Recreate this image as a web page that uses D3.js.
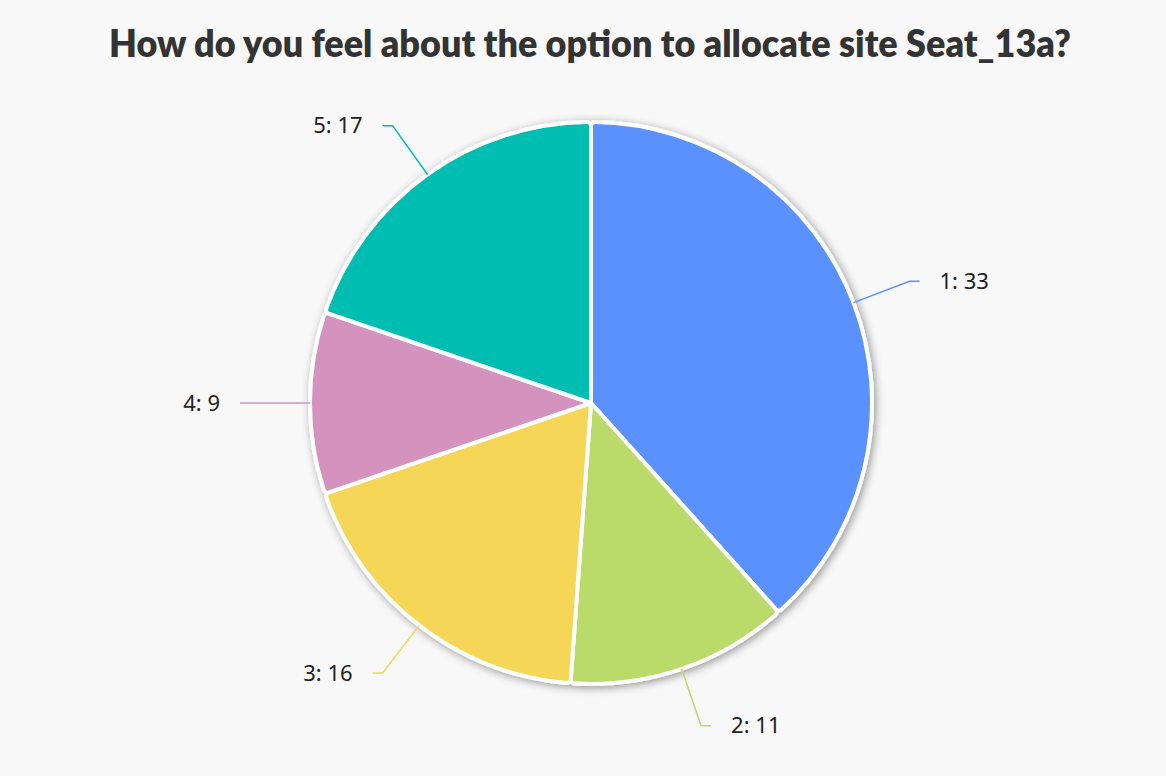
<!DOCTYPE html>
<html><head><meta charset="utf-8">
<script src="https://cdn.jsdelivr.net/npm/d3@7"></script>
<style>
html,body{margin:0;padding:0;background:#f8f8f8;}
svg{display:block;}
</style></head>
<body>
<svg id="chart" width="1166" height="776"></svg>
<script>
const title = "How do you feel about the option to allocate site Seat_13a?";
const categories = ["1", "2", "3", "4", "5"];
const values = [33, 11, 16, 9, 17];
const colors = ["#5A91FF", "#BADB6A", "#F6D657", "#D493BF", "#00BDB2"];

const W = 1166, H = 776;
const cx = 591, cy = 403, R = 281;
const svg = d3.select("#chart");

svg.append("rect").attr("width", W).attr("height", H).attr("fill", "#f8f8f8");

const defs = svg.append("defs");
const f = defs.append("filter").attr("id", "sh").attr("x", "-20%").attr("y", "-20%").attr("width", "140%").attr("height", "140%");
f.append("feDropShadow").attr("dx", 2).attr("dy", 2).attr("stdDeviation", 4).attr("flood-color", "#000").attr("flood-opacity", 0.4);

svg.append("text")
  .attr("x", 590).attr("y", 57)
  .attr("text-anchor", "middle")
  .attr("font-family", "Lato, 'Open Sans', sans-serif")
  .attr("font-weight", 800)
  .attr("font-size", 37)
  .attr("textLength", 962)
  .attr("lengthAdjust", "spacingAndGlyphs")
  .attr("fill", "#333")
  .text(title);

const data = categories.map((c, i) => ({ cat: c, value: values[i], color: colors[i] }));
const pie = d3.pie().value(d => d.value).sort(null);
const arcs = pie(data);
const arc = d3.arc().innerRadius(0).outerRadius(R).cornerRadius(4);

const g = svg.append("g").attr("transform", `translate(${cx},${cy})`);
g.append("g").attr("filter", "url(#sh)")
  .selectAll("path").data(arcs).join("path")
  .attr("d", arc)
  .attr("fill", d => d.data.color)
  .attr("stroke", "#fff")
  .attr("stroke-width", 4)
  .attr("stroke-linejoin", "round");

const len1 = 60, len2 = 10, gap = 20;
arcs.forEach(a => {
  const m = (a.startAngle + a.endAngle) / 2;
  const sx = Math.sin(m), sy = -Math.cos(m);
  const p0 = [sx * R, sy * R];
  const p1 = [sx * (R + len1), sy * (R + len1)];
  const dir = sx >= 0 ? 1 : -1;
  const p2 = [p1[0] + dir * len2, p1[1]];
  g.append("polyline")
    .attr("points", [p0, p1, p2].map(p => p.join(",")).join(" "))
    .attr("fill", "none")
    .attr("stroke", a.data.color)
    .attr("stroke-width", 1.5);
  g.append("text")
    .attr("x", p2[0] + dir * gap)
    .attr("y", p2[1])
    .attr("dy", "0.35em")
    .attr("text-anchor", dir > 0 ? "start" : "end")
    .attr("font-family", "'Source Sans Pro', 'Noto Sans', sans-serif")
    .attr("font-size", 22)
    .attr("fill", "#222")
    .text(a.data.cat + ": " + a.data.value);
});
</script>
</body></html>
